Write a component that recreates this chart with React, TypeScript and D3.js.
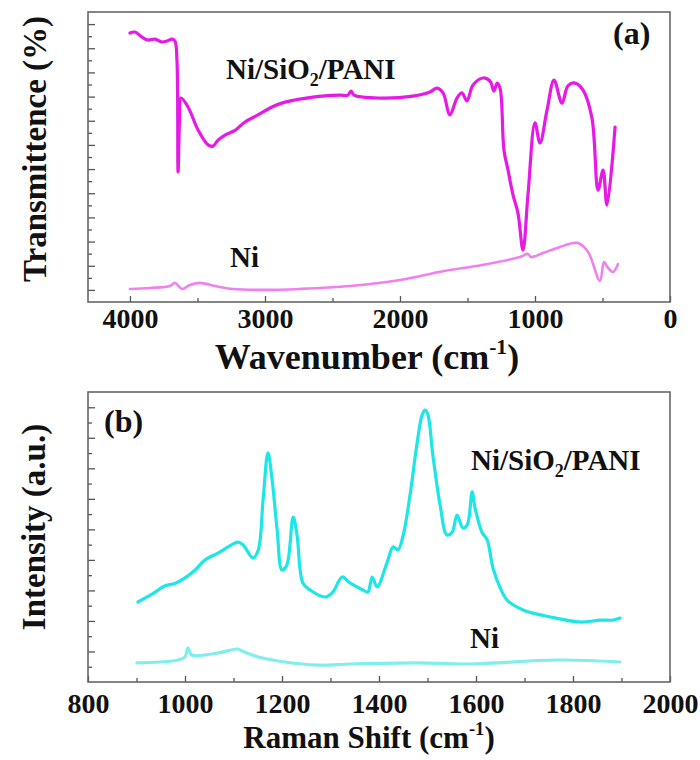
import React, { useEffect, useRef } from 'react';
import * as d3 from 'd3';

// (a) FTIR spectra, wavenumber in cm-1, transmittance in arbitrary units
const ftirPaniWave = [4000, 3963, 3911, 3867, 3815, 3763, 3726, 3689, 3667, 3652, 3644, 3633, 3622, 3570, 3496, 3422, 3385, 3348, 3296, 3222, 3148, 3052, 2948, 2852, 2644, 2444, 2385, 2363, 2341, 2148, 1904, 1778, 1726, 1681, 1630, 1578, 1541, 1504, 1459, 1385, 1333, 1304, 1281, 1259, 1230, 1200, 1163, 1126, 1089, 1052, 1000, 963, 911, 859, 800, 756, 704, 644, 578, 533, 496, 467, 407];
const ftirPaniT = [10.63, 10.67, 10.46, 10.34, 10.38, 10.26, 10.3, 10.38, 10.3, 9.51, 4.88, 7.03, 7.94, 7.57, 6.62, 6.0, 5.95, 6.2, 6.41, 6.6, 6.95, 7.24, 7.57, 7.77, 7.98, 8.06, 8.06, 8.23, 8.06, 7.94, 8.02, 8.19, 8.35, 8.15, 7.24, 7.94, 8.15, 7.82, 8.48, 8.77, 8.64, 8.23, 8.56, 8.35, 5.79, 4.96, 3.93, 3.18, 1.65, 3.93, 6.91, 6.08, 7.44, 8.68, 7.73, 8.44, 8.56, 8.27, 7.11, 4.13, 4.96, 3.51, 6.74];
const ftirNiWave = [4000, 3852, 3704, 3667, 3615, 3556, 3481, 3370, 3237, 3000, 2741, 2370, 2000, 1674, 1393, 1111, 1052, 1030, 941, 815, 719, 681, 607, 519, 489, 459, 422, 385];
const ftirNiT = [0.04, 0.08, 0.16, 0.29, 0.04, 0.2, 0.29, 0.16, 0.04, 0.0, 0.04, 0.16, 0.41, 0.78, 1.03, 1.36, 1.49, 1.36, 1.53, 1.78, 1.94, 1.94, 1.57, 0.37, 1.15, 0.91, 0.74, 1.07];
const ftirMajorTicks = [4000, 3000, 2000, 1000, 0];
const ftirMinorTicks = [3500, 2500, 1500, 500];

// (b) Raman spectra, shift in cm-1, intensity in arbitrary units
const ramanPaniShift = [903, 932, 959, 979, 1000, 1021, 1041, 1068, 1089, 1109, 1120, 1140, 1151, 1161, 1171, 1179, 1190, 1200, 1210, 1223, 1231, 1243, 1258, 1289, 1305, 1324, 1340, 1367, 1377, 1386, 1396, 1417, 1429, 1439, 1450, 1464, 1478, 1489, 1495, 1501, 1511, 1526, 1540, 1551, 1561, 1573, 1582, 1592, 1598, 1612, 1623, 1635, 1650, 1664, 1697, 1753, 1815, 1856, 1883, 1897];
const ramanPaniI = [5.24, 5.75, 6.3, 6.45, 6.82, 7.34, 7.99, 8.45, 8.85, 9.17, 8.98, 8.13, 8.65, 11.93, 15.01, 13.43, 9.96, 7.34, 7.67, 10.81, 9.63, 6.49, 6.03, 5.57, 5.9, 6.88, 6.49, 6.03, 5.9, 6.88, 6.23, 7.86, 8.85, 8.65, 9.63, 12.25, 15.53, 17.5, 17.82, 17.5, 14.88, 11.6, 9.63, 9.83, 10.94, 10.09, 10.29, 12.45, 11.4, 9.83, 9.31, 7.47, 6.16, 5.37, 4.72, 4.26, 3.93, 4.05, 4.06, 4.19];
const ramanNiShift = [901, 948, 986, 1000, 1006, 1014, 1068, 1109, 1118, 1151, 1206, 1274, 1344, 1478, 1588, 1767, 1897];
const ramanNiI = [1.25, 1.31, 1.44, 1.64, 2.23, 1.77, 1.9, 2.16, 2.03, 1.64, 1.31, 1.11, 1.18, 1.25, 1.18, 1.44, 1.31];
const ramanMajorTicks = [800, 1000, 1200, 1400, 1600, 1800, 2000];
const ramanMinorTicks = [900, 1100, 1300, 1500, 1700, 1900];

const FONT = '"Liberation Serif", "Times New Roman", serif';

const App = () => {
  const svgRef = useRef(null);

  useEffect(() => {
    const svg = d3.select(svgRef.current);
    svg.selectAll('*').remove();

    const left = 88;
    const right = 670;

    const panels = [
      {
        x: d3.scaleLinear().domain([4311, 0]).range([left, right]),
        y: d3.scaleLinear().domain([-0.5, 11.5]).range([302, 12]),
        major: ftirMajorTicks,
        minor: ftirMinorTicks,
        yMajor: d3.range(0, 12),
        yMinor: d3.range(0.5, 11, 1),
        tickPad: 6,
        series: [
          { xs: ftirNiWave, ys: ftirNiT, color: '#f07ff0', width: 2.6 },
          { xs: ftirPaniWave, ys: ftirPaniT, color: '#e619e6', width: 3.2 }
        ]
      },
      {
        x: d3.scaleLinear().domain([800, 2000]).range([left, right]),
        y: d3.scaleLinear().domain([0, 19]).range([682, 392]),
        major: ramanMajorTicks,
        minor: ramanMinorTicks,
        yMajor: d3.range(2, 19, 2),
        yMinor: d3.range(1, 19, 2),
        tickPad: 11,
        series: [
          { xs: ramanNiShift, ys: ramanNiI, color: '#80eeee', width: 3.2 },
          { xs: ramanPaniShift, ys: ramanPaniI, color: '#1ee6e6', width: 3.2 }
        ]
      }
    ];

    panels.forEach(p => {
      const [y0, y1] = p.y.range();
      const g = svg.append('g');

      // lines
      p.series.forEach(s => {
        const pts = s.xs.map((v, i) => [v, s.ys[i]]);
        const line = d3.line()
          .x(d => p.x(d[0]))
          .y(d => p.y(d[1]))
          .curve(d3.curveCatmullRom.alpha(0.5));
        g.append('path')
          .datum(pts)
          .attr('d', line)
          .attr('fill', 'none')
          .attr('stroke', s.color)
          .attr('stroke-width', s.width)
          .attr('stroke-linejoin', 'round')
          .attr('stroke-linecap', 'round');
      });

      // bottom axis, inward ticks
      const xAx = g.append('g')
        .attr('transform', `translate(0,${y0})`)
        .call(d3.axisBottom(p.x).tickValues(p.major).tickSizeInner(-6).tickSizeOuter(0).tickPadding(p.tickPad).tickFormat(d3.format('d')));
      xAx.select('.domain').remove();
      xAx.selectAll('line').attr('stroke', '#555').attr('stroke-width', 1.3);
      xAx.selectAll('text')
        .attr('fill', '#111')
        .style('font-family', FONT)
        .style('font-weight', 'bold')
        .style('font-size', '28px');

      const xMin = g.append('g')
        .attr('transform', `translate(0,${y0})`)
        .call(d3.axisBottom(p.x).tickValues(p.minor).tickSizeInner(-4).tickSizeOuter(0).tickFormat(() => ''));
      xMin.select('.domain').remove();
      xMin.selectAll('line').attr('stroke', '#555').attr('stroke-width', 1.3);

      // left axis, inward ticks, no labels
      const yMaj = g.append('g')
        .attr('transform', `translate(${left},0)`)
        .call(d3.axisLeft(p.y).tickValues(p.yMajor).tickSizeInner(-7).tickSizeOuter(0).tickFormat(() => ''));
      yMaj.select('.domain').remove();
      yMaj.selectAll('line').attr('stroke', '#555').attr('stroke-width', 1.3);

      const yMin = g.append('g')
        .attr('transform', `translate(${left},0)`)
        .call(d3.axisLeft(p.y).tickValues(p.yMinor).tickSizeInner(-4).tickSizeOuter(0).tickFormat(() => ''));
      yMin.select('.domain').remove();
      yMin.selectAll('line').attr('stroke', '#555').attr('stroke-width', 1.3);

      // frame
      g.append('rect')
        .attr('x', left)
        .attr('y', y1)
        .attr('width', right - left)
        .attr('height', y0 - y1)
        .attr('fill', 'none')
        .attr('stroke', '#666')
        .attr('stroke-width', 1.6);
    });

    const txt = (x, y, size) => svg.append('text')
      .attr('x', x)
      .attr('y', y)
      .attr('fill', '#111')
      .style('font-family', FONT)
      .style('font-weight', 'bold')
      .style('font-size', `${size}px`);

    // sample labels with subscript
    const sampleLabel = (x, y) => {
      const t = txt(x, y, 29);
      t.append('tspan').text('Ni/SiO');
      t.append('tspan').attr('dy', 7).style('font-size', '18px').text('2');
      t.append('tspan').attr('dy', -7).text('/PANI');
    };
    sampleLabel(226, 79);
    txt(230, 267, 29).text('Ni');
    txt(613, 44, 32).text('(a)');

    sampleLabel(471, 470);
    txt(470, 648, 29).text('Ni');
    txt(104, 432, 32).text('(b)');

    // axis titles
    const xTitle = (cx, y, size, label) => {
      const t = txt(cx, y, size).attr('text-anchor', 'middle');
      t.append('tspan').text(label + ' (cm');
      t.append('tspan').attr('dy', -size * 0.42).style('font-size', `${size * 0.6}px`).text('-1');
      t.append('tspan').attr('dy', size * 0.42).text(')');
    };
    xTitle(367, 369, 36, 'Wavenumber');
    xTitle(369, 748, 31, 'Raman Shift');

    txt(0, 0, 33)
      .attr('text-anchor', 'middle')
      .attr('transform', 'translate(46,149) rotate(-90)')
      .text('Transmittence (%)');
    txt(0, 0, 33)
      .attr('text-anchor', 'middle')
      .attr('transform', 'translate(45,527) rotate(-90)')
      .text('Intensity (a.u.)');
  }, []);

  return (
    <svg
      ref={svgRef}
      width={700}
      height={760}
      style={{ position: 'absolute', left: 0, top: 0, background: '#fff' }}
    />
  );
};

export default App;
